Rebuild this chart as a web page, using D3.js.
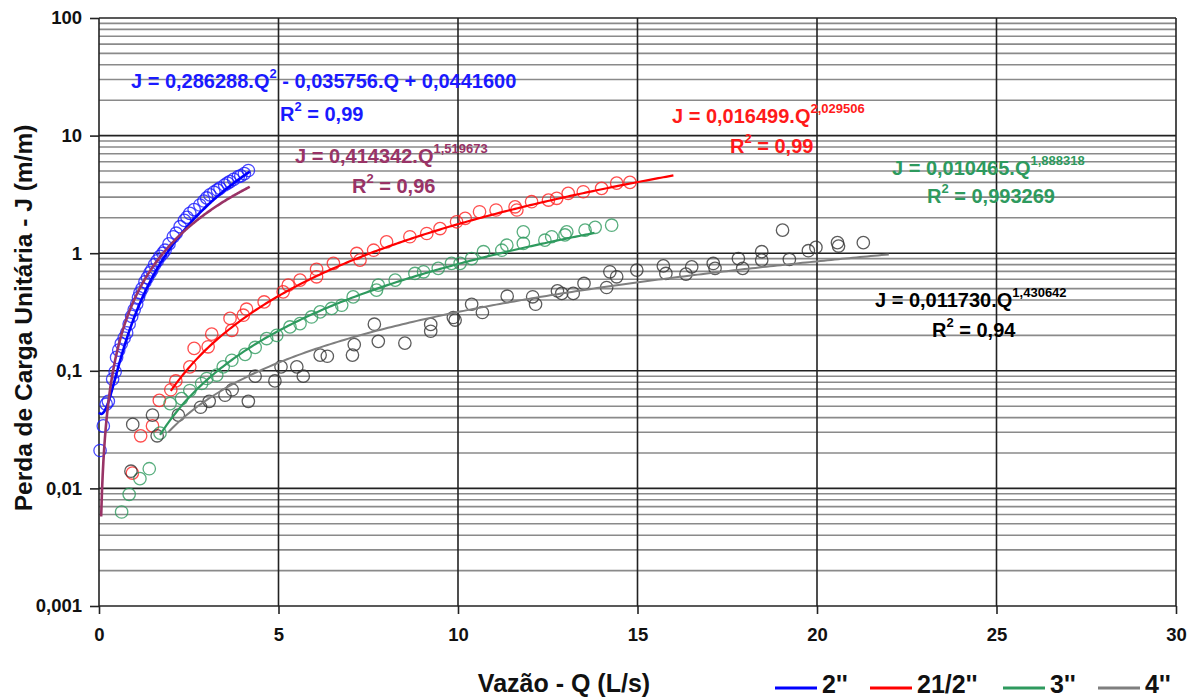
<!DOCTYPE html>
<html>
<head>
<meta charset="utf-8">
<script src="https://cdn.jsdelivr.net/npm/d3@7"></script>
<style>
  body { margin: 0; background: #fff; }
  svg { font-family: "Liberation Sans", Arial, sans-serif; font-weight: bold; }
</style>
</head>
<body>
<svg id="chart" width="1195" height="699"></svg>
<script>
// Observed points, 2" pipe: [Q (L/s), J (m/m)]
const pts2 = [
  [0.03, 0.021], [0.12, 0.034], [0.20, 0.052], [0.26, 0.055], [0.38, 0.085], [0.45, 0.098],
  [0.49, 0.13], [0.55, 0.15], [0.62, 0.17], [0.70, 0.19], [0.77, 0.21], [0.84, 0.25],
  [0.91, 0.29], [0.98, 0.33], [1.05, 0.37], [1.10, 0.42], [1.14, 0.46], [1.20, 0.50],
  [1.28, 0.57], [1.35, 0.62], [1.42, 0.68], [1.47, 0.72], [1.55, 0.80], [1.62, 0.86],
  [1.70, 0.94], [1.78, 1.00], [1.84, 1.06], [1.95, 1.20], [2.07, 1.38], [2.15, 1.48],
  [2.26, 1.68], [2.38, 1.90], [2.45, 2.02], [2.53, 2.18], [2.65, 2.35], [2.81, 2.57],
  [2.92, 2.78], [3.00, 2.95], [3.09, 3.13], [3.20, 3.30], [3.30, 3.45], [3.37, 3.57],
  [3.50, 3.80], [3.58, 3.95], [3.65, 4.06], [3.75, 4.25], [3.88, 4.48], [3.95, 4.55],
  [4.05, 4.75], [4.16, 5.05]
];
// 2 1/2" pipe
const pts25 = [
  [0.93, 0.0135], [1.16, 0.028], [1.49, 0.034], [1.68, 0.056], [2.00, 0.069], [2.14, 0.082],
  [2.53, 0.108], [2.65, 0.155], [3.04, 0.160], [3.14, 0.205], [3.70, 0.221], [3.65, 0.279],
  [4.02, 0.297], [4.11, 0.334], [4.60, 0.385], [5.13, 0.469], [5.27, 0.535], [5.60, 0.59],
  [6.06, 0.63], [6.06, 0.73], [6.53, 0.82], [7.18, 0.995], [7.27, 0.873], [7.65, 1.06],
  [8.01, 1.25], [8.66, 1.38], [9.13, 1.47], [9.50, 1.62], [9.96, 1.85], [10.2, 1.98],
  [10.6, 2.25], [11.06, 2.33], [11.59, 2.48], [11.64, 2.33], [12.05, 2.74], [12.52, 2.83],
  [12.75, 2.93], [13.07, 3.23], [13.49, 3.33], [14.0, 3.56], [14.42, 3.94], [14.79, 4.0]
];
// 3" pipe
const pts3 = [
  [0.63, 0.0063], [0.84, 0.0089], [1.14, 0.0121], [1.40, 0.0147], [1.70, 0.0295], [1.98, 0.0526],
  [2.30, 0.058], [2.53, 0.068], [2.86, 0.078], [3.00, 0.086], [3.28, 0.092], [3.46, 0.108],
  [3.70, 0.123], [4.07, 0.138], [4.35, 0.158], [4.67, 0.188], [4.95, 0.20], [5.32, 0.236],
  [5.60, 0.252], [5.92, 0.287], [6.16, 0.317], [6.48, 0.339], [6.76, 0.361], [7.08, 0.425],
  [7.73, 0.485], [7.78, 0.535], [8.25, 0.59], [8.80, 0.673], [9.04, 0.695], [9.45, 0.743],
  [9.82, 0.82], [10.06, 0.82], [10.38, 0.90], [10.71, 1.03], [11.22, 1.06], [11.36, 1.17],
  [11.82, 1.52], [11.82, 1.21], [12.42, 1.29], [12.61, 1.38], [12.98, 1.43], [13.03, 1.52],
  [13.54, 1.57], [13.82, 1.66], [14.28, 1.73]
];
// 4" pipe
const pts4 = [
  [0.89, 0.014], [0.94, 0.035], [1.49, 0.042], [1.62, 0.028], [2.21, 0.042], [2.83, 0.049],
  [3.07, 0.055], [3.51, 0.062], [3.71, 0.069], [4.16, 0.055], [4.35, 0.090], [4.90, 0.082],
  [5.07, 0.108], [5.51, 0.108], [5.69, 0.090], [6.16, 0.136], [6.36, 0.133], [7.06, 0.136],
  [7.11, 0.167], [7.67, 0.249], [7.78, 0.178], [8.52, 0.172], [9.24, 0.248], [9.24, 0.217],
  [9.87, 0.284], [9.92, 0.27], [10.38, 0.368], [10.68, 0.313], [11.37, 0.431], [12.08, 0.426],
  [12.16, 0.368], [12.77, 0.478], [12.89, 0.455], [13.21, 0.455], [13.51, 0.553], [14.14, 0.511],
  [14.23, 0.695], [14.42, 0.63], [14.98, 0.718], [15.72, 0.78], [15.79, 0.673], [16.35, 0.664],
  [16.51, 0.766], [17.11, 0.818], [17.16, 0.743], [17.81, 0.90], [17.93, 0.743], [18.46, 1.03],
  [18.46, 0.873], [19.04, 1.57], [19.23, 0.885], [19.76, 1.05], [19.97, 1.12], [20.57, 1.23],
  [20.60, 1.15], [21.29, 1.23]
];

// trend line coefficients as printed on the chart, with the Q range each covers
const fit2 = { poly: [0.286288, -0.035756, 0.0441600], range: [0, 4.2] };
const fit2pow = { a: 0.414342, b: 1.519673, range: [0.06, 4.2] };
const fit25 = { a: 0.016499, b: 2.029506, range: [2.0, 16.0] };
const fit3 = { a: 0.010465, b: 1.888318, range: [1.7, 13.8] };
const fit4 = { a: 0.011730, b: 1.430642, range: [1.93, 22.0] };

const xTicks = [0, 5, 10, 15, 20, 25, 30];
const yTicks = [100, 10, 1, 0.1, 0.01, 0.001];
const yTickLabels = ['100', '10', '1', '0,1', '0,01', '0,001'];
const legendNames = ["2''", "21/2''", "3''", "4''"];

const svg = d3.select('#chart');
const x = d3.scaleLinear().domain([0, 30]).range([99, 1176]);
const y = d3.scaleLog().domain([0.001, 100]).range([606, 18]);

// horizontal grid: minor lines
const minor = [];
for (let e = -3; e < 2; e++) {
  for (let m = 2; m <= 9; m++) minor.push(m * Math.pow(10, e));
}
svg.append('g').selectAll('line').data(minor).join('line')
  .attr('x1', x(0)).attr('x2', x(30))
  .attr('y1', d => y(d)).attr('y2', d => y(d))
  .attr('stroke', '#8a8a8a').attr('stroke-width', 1.6);

// major lines
svg.append('g').selectAll('line').data(yTicks).join('line')
  .attr('x1', x(0)).attr('x2', x(30))
  .attr('y1', d => y(d)).attr('y2', d => y(d))
  .attr('stroke', '#222').attr('stroke-width', 1.6);
svg.append('g').selectAll('line').data(xTicks).join('line')
  .attr('x1', d => x(d)).attr('x2', d => x(d))
  .attr('y1', y(100)).attr('y2', y(0.001))
  .attr('stroke', '#222').attr('stroke-width', 1.6);

// axes
const yAxis = svg.append('g')
  .attr('transform', 'translate(' + x(0) + ',0)')
  .call(d3.axisLeft(y).tickValues(yTicks).tickFormat((d, i) => yTickLabels[i]).tickSize(9).tickPadding(8));
const xAxis = svg.append('g')
  .attr('transform', 'translate(0,' + y(0.001) + ')')
  .call(d3.axisBottom(x).tickValues(xTicks).tickSize(8).tickPadding(14));
[yAxis, xAxis].forEach(a => {
  a.select('.domain').remove();
  a.selectAll('line').attr('stroke', '#222').attr('stroke-width', 1.6);
  a.selectAll('text').attr('font-size', 18.5).attr('font-weight', 'bold')
    .attr('font-family', '"Liberation Sans", Arial, sans-serif').attr('fill', '#111');
});

// points
function drawPts(data, color) {
  svg.append('g').selectAll('circle').data(data).join('circle')
    .attr('cx', d => x(d[0])).attr('cy', d => y(d[1])).attr('r', 6.2)
    .attr('fill', 'none').attr('stroke', color).attr('stroke-width', 1.3).attr('stroke-opacity', 0.8);
}
drawPts(pts2, '#1a1aff');
drawPts(pts25, '#ff2020');
drawPts(pts3, '#2e9a5e');
drawPts(pts4, '#333');

// trend lines
const line = d3.line().x(d => x(d[0])).y(d => y(d[1]));
function sample(range, f) {
  return d3.range(0, 201).map(i => {
    const q = range[0] + (range[1] - range[0]) * i / 200;
    return [q, f(q)];
  });
}
function drawFit(pts, color, w) {
  svg.append('path').datum(pts).attr('d', line)
    .attr('fill', 'none').attr('stroke', color).attr('stroke-width', w);
}
drawFit(sample(fit4.range, q => fit4.a * Math.pow(q, fit4.b)), '#7f7f7f', 2);
drawFit(sample(fit3.range, q => fit3.a * Math.pow(q, fit3.b)), '#2e9a5e', 2.2);
drawFit(sample(fit25.range, q => fit25.a * Math.pow(q, fit25.b)), '#ff0000', 2.2);
drawFit(sample(fit2.range, q => fit2.poly[0] * q * q + fit2.poly[1] * q + fit2.poly[2]), '#0000ff', 2.6);
drawFit(sample(fit2pow.range, q => fit2pow.a * Math.pow(q, fit2pow.b)), '#993366', 2.6);

// equation labels
function eq(xp, yp, color, parts) {
  const t = svg.append('text').attr('x', xp).attr('y', yp).attr('fill', color).attr('font-size', 20);
  parts.forEach(p => {
    if (p.sup) t.append('tspan').attr('dy', -10).attr('font-size', 13).text(p.sup);
    else t.append('tspan').attr('dy', p.down ? 10 : 0).text(p.t);
  });
}
eq(131, 88, '#1a1aff', [{ t: 'J = 0,286288.Q' }, { sup: '2' }, { t: ' - 0,035756.Q + 0,0441600', down: true }]);
eq(280, 121, '#1a1aff', [{ t: 'R' }, { sup: '2' }, { t: ' = 0,99', down: true }]);
eq(295, 163, '#993366', [{ t: 'J = 0,414342.Q' }, { sup: '1,519673' }]);
eq(352, 193, '#993366', [{ t: 'R' }, { sup: '2' }, { t: ' = 0,96', down: true }]);
eq(672, 123, '#ff1a1a', [{ t: 'J = 0,016499.Q' }, { sup: '2,029506' }]);
eq(730, 153, '#ff1a1a', [{ t: 'R' }, { sup: '2' }, { t: ' = 0,99', down: true }]);
eq(892, 175, '#2e9a5e', [{ t: 'J = 0,010465.Q' }, { sup: '1,888318' }]);
eq(927, 203, '#2e9a5e', [{ t: 'R' }, { sup: '2' }, { t: ' = 0,993269', down: true }]);
eq(875, 307, '#000', [{ t: 'J = 0,011730.Q' }, { sup: '1,430642' }]);
eq(932, 337, '#000', [{ t: 'R' }, { sup: '2' }, { t: ' = 0,94', down: true }]);

// axis titles
svg.append('text').attr('transform', 'translate(32,318) rotate(-90)')
  .attr('text-anchor', 'middle').attr('font-size', 24.5).attr('fill', '#111')
  .text('Perda de Carga Unitária - J (m/m)');
svg.append('text').attr('x', 564).attr('y', 692)
  .attr('text-anchor', 'middle').attr('font-size', 25).attr('fill', '#111')
  .text('Vazão - Q (L/s)');

// legend
const legendColors = ['#0000ff', '#ff0000', '#2e9a5e', '#7f7f7f'];
const legendX = [775, 870, 1003, 1098];
legendNames.forEach((n, i) => {
  svg.append('line').attr('x1', legendX[i]).attr('x2', legendX[i] + 42)
    .attr('y1', 688).attr('y2', 688).attr('stroke', legendColors[i]).attr('stroke-width', 3);
  svg.append('text').attr('x', legendX[i] + 47).attr('y', 693)
    .attr('font-size', 25).attr('fill', '#111').text(n);
});
</script>
</body>
</html>
